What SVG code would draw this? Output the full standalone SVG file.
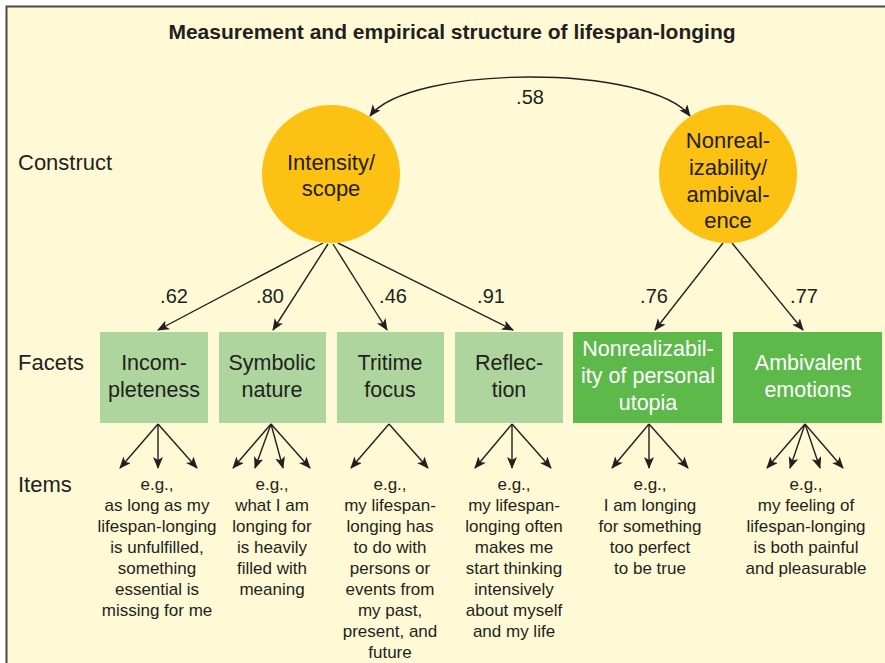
<svg xmlns="http://www.w3.org/2000/svg" width="885" height="663" viewBox="0 0 885 663">
<style>
text{font-family:"Liberation Sans",Arial,sans-serif;fill:#231F20;text-anchor:middle}
.title{font-size:21px;font-weight:bold}
.row{font-size:22px;text-anchor:start}
.con{font-size:22px}
.fac{font-size:21.5px}
.facw{font-size:21.5px;fill:#FFFFFF}
.load{font-size:20px}
.item{font-size:17px}
.circ{fill:#FDC113}
.lite{fill:#ADD59D}
.dark{fill:#5DB94A}
.ln{fill:none;stroke:#231F20;stroke-width:1.4}
</style>
<defs>
<marker id="ah" markerUnits="userSpaceOnUse" markerWidth="14" markerHeight="12" refX="11" refY="5" orient="auto-start-reverse" viewBox="0 0 14 12">
<path d="M0,0 L12,5 L0,10 L3,5 Z" fill="#231F20"/>
</marker>
</defs>
<rect x="0" y="0" width="885" height="663" fill="#FFFFFF"/>
<rect x="6" y="6" width="879" height="657" fill="#FFF9D6"/>
<path d="M6.5,663 L6.5,6.5 L885,6.5" fill="none" stroke="#4A4A4A" stroke-width="2"/>
<text class="title" x="452" y="39">Measurement and empirical structure of lifespan-longing</text>
<g id="row-labels">
<text class="row" x="18" y="170">Construct</text>
<text class="row" x="18" y="370">Facets</text>
<text class="row" x="18" y="492">Items</text>
</g>
<g id="connectors">
<path class="ln" d="M370,116 C410,64 650,64 690,116" marker-start="url(#ah)" marker-end="url(#ah)"/>
<path class="ln" d="M323,243 L158,330" marker-end="url(#ah)"/>
<path class="ln" d="M328,244 L273,330" marker-end="url(#ah)"/>
<path class="ln" d="M333,244 L387,330" marker-end="url(#ah)"/>
<path class="ln" d="M338,243 L513,330" marker-end="url(#ah)"/>
<path class="ln" d="M723,243 L655,330" marker-end="url(#ah)"/>
<path class="ln" d="M732,243 L803,330" marker-end="url(#ah)"/>
<path class="ln" d="M158,424 L120,468" marker-end="url(#ah)"/>
<path class="ln" d="M158,424 L158,468" marker-end="url(#ah)"/>
<path class="ln" d="M158,424 L197,468" marker-end="url(#ah)"/>
<path class="ln" d="M271,424 L233,468" marker-end="url(#ah)"/>
<path class="ln" d="M271,424 L255,468" marker-end="url(#ah)"/>
<path class="ln" d="M271,424 L283,468" marker-end="url(#ah)"/>
<path class="ln" d="M271,424 L310,468" marker-end="url(#ah)"/>
<path class="ln" d="M389,424 L351,468" marker-end="url(#ah)"/>
<path class="ln" d="M389,424 L428,468" marker-end="url(#ah)"/>
<path class="ln" d="M512,424 L475,468" marker-end="url(#ah)"/>
<path class="ln" d="M512,424 L512,468" marker-end="url(#ah)"/>
<path class="ln" d="M512,424 L551,468" marker-end="url(#ah)"/>
<path class="ln" d="M649,424 L612,468" marker-end="url(#ah)"/>
<path class="ln" d="M649,424 L649,468" marker-end="url(#ah)"/>
<path class="ln" d="M649,424 L688,468" marker-end="url(#ah)"/>
<path class="ln" d="M805,424 L767,468" marker-end="url(#ah)"/>
<path class="ln" d="M805,424 L790,468" marker-end="url(#ah)"/>
<path class="ln" d="M805,424 L820,468" marker-end="url(#ah)"/>
<path class="ln" d="M805,424 L843,468" marker-end="url(#ah)"/>
<text class="load" x="530" y="104">.58</text>
<text class="load" x="174" y="303">.62</text>
<text class="load" x="270" y="303">.80</text>
<text class="load" x="393" y="303">.46</text>
<text class="load" x="491" y="303">.91</text>
<text class="load" x="654" y="303">.76</text>
<text class="load" x="804" y="303">.77</text>
</g>
<g id="construct-intensity">
<circle class="circ" cx="331" cy="174" r="69"/>
<text class="con" x="331" y="170">Intensity/</text>
<text class="con" x="331" y="196">scope</text>
</g>
<g id="construct-nonrealizability">
<circle class="circ" cx="728" cy="174" r="69"/>
<text class="con" x="728" y="148">Nonreal-</text>
<text class="con" x="728" y="175">izability/</text>
<text class="con" x="728" y="202">ambival-</text>
<text class="con" x="728" y="228">ence</text>
</g>
<g id="facet-incompleteness">
<rect class="lite" x="100" y="332" width="108" height="91"/>
<text class="fac" x="154" y="370">Incom-</text>
<text class="fac" x="154" y="397">pleteness</text>
</g>
<g id="facet-symbolic">
<rect class="lite" x="219" y="332" width="107" height="91"/>
<text class="fac" x="272" y="370">Symbolic</text>
<text class="fac" x="272" y="397">nature</text>
</g>
<g id="facet-tritime">
<rect class="lite" x="337" y="332" width="107" height="91"/>
<text class="fac" x="390" y="370">Tritime</text>
<text class="fac" x="390" y="397">focus</text>
</g>
<g id="facet-reflection">
<rect class="lite" x="455" y="332" width="108" height="91"/>
<text class="fac" x="509" y="370">Reflec-</text>
<text class="fac" x="509" y="397">tion</text>
</g>
<g id="facet-nonrealizability">
<rect class="dark" x="573" y="332" width="149" height="91"/>
<text class="facw" x="648" y="356">Nonrealizabil-</text>
<text class="facw" x="648" y="383">ity of personal</text>
<text class="facw" x="648" y="410">utopia</text>
</g>
<g id="facet-ambivalent">
<rect class="dark" x="733" y="332" width="149" height="91"/>
<text class="facw" x="808" y="370">Ambivalent</text>
<text class="facw" x="808" y="397">emotions</text>
</g>
<g id="items-incompleteness">
<text class="item" x="157" y="490">e.g.,</text>
<text class="item" x="157" y="511">as long as my</text>
<text class="item" x="157" y="532">lifespan-longing</text>
<text class="item" x="157" y="553">is unfulfilled,</text>
<text class="item" x="157" y="574">something</text>
<text class="item" x="157" y="595">essential is</text>
<text class="item" x="157" y="616">missing for me</text>
</g>
<g id="items-symbolic">
<text class="item" x="272" y="490">e.g.,</text>
<text class="item" x="272" y="511">what I am</text>
<text class="item" x="272" y="532">longing for</text>
<text class="item" x="272" y="553">is heavily</text>
<text class="item" x="272" y="574">filled with</text>
<text class="item" x="272" y="595">meaning</text>
</g>
<g id="items-tritime">
<text class="item" x="390" y="490">e.g.,</text>
<text class="item" x="390" y="511">my lifespan-</text>
<text class="item" x="390" y="532">longing has</text>
<text class="item" x="390" y="553">to do with</text>
<text class="item" x="390" y="574">persons or</text>
<text class="item" x="390" y="595">events from</text>
<text class="item" x="390" y="616">my past,</text>
<text class="item" x="390" y="637">present, and</text>
<text class="item" x="390" y="658">future</text>
</g>
<g id="items-reflection">
<text class="item" x="514" y="490">e.g.,</text>
<text class="item" x="514" y="511">my lifespan-</text>
<text class="item" x="514" y="532">longing often</text>
<text class="item" x="514" y="553">makes me</text>
<text class="item" x="514" y="574">start thinking</text>
<text class="item" x="514" y="595">intensively</text>
<text class="item" x="514" y="616">about myself</text>
<text class="item" x="514" y="637">and my life</text>
</g>
<g id="items-nonrealizability">
<text class="item" x="650" y="490">e.g.,</text>
<text class="item" x="650" y="511">I am longing</text>
<text class="item" x="650" y="532">for something</text>
<text class="item" x="650" y="553">too perfect</text>
<text class="item" x="650" y="574">to be true</text>
</g>
<g id="items-ambivalent">
<text class="item" x="806" y="490">e.g.,</text>
<text class="item" x="806" y="511">my feeling of</text>
<text class="item" x="806" y="532">lifespan-longing</text>
<text class="item" x="806" y="553">is both painful</text>
<text class="item" x="806" y="574">and pleasurable</text>
</g>
</svg>
